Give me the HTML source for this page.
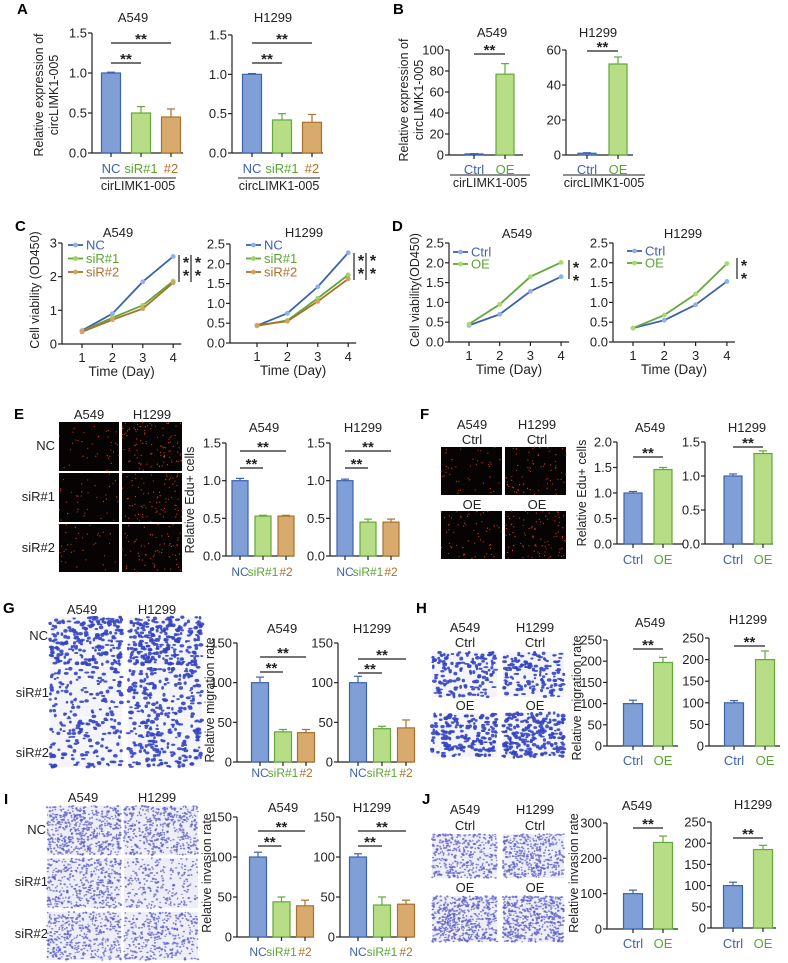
<!DOCTYPE html>
<html><head><meta charset="utf-8"><style>
html,body{margin:0;padding:0;background:#fff;}
svg{display:block;font-family:"Liberation Sans",sans-serif;}
</style></head><body>
<svg id="fig" width="788" height="963" viewBox="0 0 788 963" xmlns="http://www.w3.org/2000/svg">
<rect width="788" height="963" fill="#fff"/>
</svg>
<script>
// ---------- data ----------
const kdCats = ["NC","siR#1","#2"];
const oeCats = ["Ctrl","OE"];
const aA549Vals = [1.0,0.50,0.45];   const aA549Errs = [0.01,0.08,0.10];
const aH1299Vals = [1.0,0.42,0.39];  const aH1299Errs = [0.01,0.08,0.10];
const bA549Vals = [1,77];  const bA549Errs = [0.3,10];
const bH1299Vals = [1,52]; const bH1299Errs = [0.3,4];
const days = [1,2,3,4];
const cA549NC = [0.40,0.90,1.85,2.60];  const cA549S1 = [0.38,0.78,1.15,1.87]; const cA549S2 = [0.36,0.72,1.05,1.82];
const cH1299NC = [0.44,0.75,1.42,2.28]; const cH1299S1 = [0.43,0.57,1.13,1.72]; const cH1299S2 = [0.45,0.55,1.05,1.62];
const dA549Ctrl = [0.42,0.70,1.28,1.65]; const dA549OE = [0.45,0.95,1.65,2.01];
const dH1299Ctrl = [0.35,0.55,0.94,1.53]; const dH1299OE = [0.35,0.68,1.21,1.98];
const eA549Vals = [1.0,0.53,0.53]; const eA549Errs = [0.03,0.01,0.01];
const eH1299Vals = [1.0,0.45,0.45]; const eH1299Errs = [0.02,0.04,0.04];
const fA549Vals = [1.0,1.46]; const fA549Errs = [0.03,0.04];
const fH1299Vals = [1.0,1.33]; const fH1299Errs = [0.03,0.04];
const gA549Vals = [100,38,37]; const gA549Errs = [7,3,4];
const gH1299Vals = [100,42,43]; const gH1299Errs = [8,3,10];
const hA549Vals = [100,197]; const hA549Errs = [8,12];
const hH1299Vals = [100,200]; const hH1299Errs = [5,20];
const iA549Vals = [100,44,39]; const iA549Errs = [6,6,7];
const iH1299Vals = [100,40,41]; const iH1299Errs = [4,10,5];
const jA549Vals = [100,245]; const jA549Errs = [10,18];
const jH1299Vals = [100,185]; const jH1299Errs = [8,10];
const ticksA = [0,0.5,1.0,1.5]; const tickLabA = ["0.0","0.5","1.0","1.5"];
const ticksB1 = [0,20,40,60,80,100]; const ticksB2 = [0,20,40,60];
const ticksC1 = [0,1,2,3]; const ticksC2 = [0,0.5,1,1.5,2,2.5]; const tickLabC2 = ["0.0","0.5","1.0","1.5","2.0","2.5"];
const ticksF1 = [0,0.5,1,1.5,2]; const tickLabF1 = ["0.0","0.5","1.0","1.5","2.0"];
const ticks150 = [0,50,100,150]; const ticks250 = [0,50,100,150,200,250]; const ticks300 = [0,100,200,300];

// ---------- helpers ----------
const NS='http://www.w3.org/2000/svg';
const svg=document.getElementById('fig');
function mk(tag,attrs,parent){const e=document.createElementNS(NS,tag);for(const k in attrs)e.setAttribute(k,attrs[k]);(parent||svg).appendChild(e);return e;}
function txt(x,y,s,opts,parent){const t=mk('text',Object.assign({x:x,y:y,'font-size':11.5,'text-anchor':'middle',fill:'#222'},opts||{}),parent);t.textContent=s;return t;}
const COL={
 NC:{fill:'#7f9fd6',stroke:'#3d62ad',text:'#3d62ad',mark:'#8fb0e8'},
 Ctrl:{fill:'#7f9fd6',stroke:'#3d62ad',text:'#3d62ad',mark:'#8fb0e8'},
 'siR#1':{fill:'#b7dd86',stroke:'#62a83a',text:'#5aa532',mark:'#9ed36a'},
 OE:{fill:'#b7dd86',stroke:'#62a83a',text:'#5aa532',mark:'#a6dc6e'},
 '#2':{fill:'#d8aa6e',stroke:'#a8722d',text:'#b0702a',mark:'#d9a060'},
 'siR#2':{fill:'#d8aa6e',stroke:'#a8722d',text:'#b0702a',mark:'#d9a060'}
};

function barChart(c){
 const g=mk('g',{});
 
 
 const ys=v=>c.y0-(v/c.max)*(c.y0-c.yTop);
 const bw=c.bw||18;
 mk('line',{x1:c.ax,y1:ys(c.ticks[c.ticks.length-1]),x2:c.ax,y2:c.y0,stroke:'#222','stroke-width':1.2},g);
 mk('line',{x1:c.ax,y1:c.y0,x2:c.xEnd,y2:c.y0,stroke:'#222','stroke-width':1.2},g);
 c.ticks.forEach((t,i)=>{
  mk('line',{x1:c.ax-4,y1:ys(t),x2:c.ax,y2:ys(t),stroke:'#222','stroke-width':1.2},g);
  const tl=txt(c.ax-5,ys(t)+4.5,c.tickLabels?c.tickLabels[i]:String(t),{'text-anchor':'end','font-size':13},g);
  
  
 });
 c.vals.forEach((v,i)=>{
  const cx=c.x0+i*c.step, col=COL[c.cats[i]];
  const top=ys(v), et=ys(v+c.errs[i]);
  mk('line',{x1:cx,y1:top,x2:cx,y2:et,stroke:col.stroke,'stroke-width':1.2},g);
  mk('line',{x1:cx-4,y1:et,x2:cx+4,y2:et,stroke:col.stroke,'stroke-width':1.2},g);
  const r=mk('rect',{x:cx-bw/2,y:top,width:bw,height:Math.max(0.8,c.y0-top),fill:col.fill,stroke:col.stroke,'stroke-width':1.2},g);
  
  
  mk('line',{x1:cx,y1:c.y0,x2:cx,y2:c.y0+4,stroke:'#222','stroke-width':1.2},g);
  const l=txt(cx,c.ly,c.cats[i],{fill:col.text,'font-size':c.lfs||13},g);
  
  
 });
 const t=txt(c.tx,c.ty,c.title,{'font-size':13},g);
 
 
 (c.sig||[]).forEach(s=>{
  const x1=c.x0+s[0]*c.step, x2=c.x0+s[1]*c.step;
  mk('line',{x1:x1,y1:s[2],x2:x2,y2:s[2],stroke:'#222','stroke-width':1.2},g);
  const st=txt((x1+x2)/2,s[2]+1,'**',{'font-size':15,'font-weight':'bold'},g);
  
  
 });
 if(c.under){
  mk('line',{x1:c.under[0],y1:c.under[2],x2:c.under[1],y2:c.under[2],stroke:'#222','stroke-width':1},g);
  const u=txt((c.under[0]+c.under[1])/2,c.under[2]+12,c.under[3],{'font-size':12.5},g);
  
  
 }
}

function lineChart(c){
 const g=mk('g',{});
 
 
 const ys=v=>c.y0-(v/c.max)*(c.y0-c.yTop);
 const xs=d=>c.x0+(d-1)*c.step;
 mk('line',{x1:c.ax,y1:c.yTop,x2:c.ax,y2:c.y0,stroke:'#222','stroke-width':1.2},g);
 mk('line',{x1:c.ax,y1:c.y0,x2:xs(4)+8,y2:c.y0,stroke:'#222','stroke-width':1.2},g);
 c.ticks.forEach((t,i)=>{
  mk('line',{x1:c.ax-4,y1:ys(t),x2:c.ax,y2:ys(t),stroke:'#222','stroke-width':1.2},g);
  const tl=txt(c.ax-5,ys(t)+4.5,c.tickLabels?c.tickLabels[i]:String(t),{'text-anchor':'end','font-size':13},g);
  
  
 });
 days.forEach(d=>{
  mk('line',{x1:xs(d),y1:c.y0,x2:xs(d),y2:c.y0+4,stroke:'#222','stroke-width':1.2},g);
  const xl=txt(xs(d),c.y0+18,String(d),{'font-size':13},g);
  
  
 });
 const xt=txt((c.ax+xs(4))/2+4,c.y0+32,'Time (Day)',{'font-size':13.5},g);
 
 
 c.series.forEach((s,si)=>{
  const col=COL[s.key];
  const p=mk('polyline',{points:s.vals.map((v,i)=>xs(days[i])+','+ys(v)).join(' '),fill:'none',stroke:col.stroke,'stroke-width':1.8},g);
  
  
  s.vals.forEach((v,i)=>{
   const m=mk('circle',{cx:xs(days[i]),cy:ys(v),r:2.4,fill:col.mark},g);
   
   
  });
  const ly=c.legY+si*c.legDy;
  mk('line',{x1:c.legX,y1:ly,x2:c.legX+15,y2:ly,stroke:col.stroke,'stroke-width':1.8},g);
  mk('circle',{cx:c.legX+7.5,cy:ly,r:2.4,fill:col.mark},g);
  const lt=txt(c.legX+18,ly+4.5,s.key,{'text-anchor':'start',fill:col.text,'font-size':13},g);
  
  
 });
 const t=txt(c.tx,c.ty,c.title,{'font-size':13},g);
 
 
 c.sigX.forEach((sx,k)=>{
  mk('line',{x1:sx,y1:c.sigY[0],x2:sx,y2:c.sigY[1],stroke:'#222','stroke-width':1.2},g);
  txt(sx+7,c.sigY[0]+13,'*',{'font-size':16,'font-weight':'bold'},g);
  txt(sx+7,c.sigY[0]+26,'*',{'font-size':16,'font-weight':'bold'},g);
 });
}

function yTitle(x,y,lines,name){
 const t=mk('text',{x:x,y:y,'font-size':12.5,'text-anchor':'middle',fill:'#222',transform:'rotate(-90 '+x+' '+y+')'});
 
 
 lines.forEach((s,i)=>{const ts=mk('tspan',{x:x,dy:i?15:0},t);ts.textContent=s;});
}
function label(x,y,s){const t=txt(x,y,s,{'font-size':15,'font-weight':'bold','text-anchor':'start',fill:'#000'});}
function plain(x,y,s,anchor,name){const t=txt(x,y,s,{'font-size':13,'text-anchor':anchor||'middle'});}

// deterministic texture generator for micrographs
let seed=12345;
function rnd(){seed=(seed*1103515245+12345)%2147483648;return seed/2147483648;}
function micro(x,y,w,h,type,dens,name){
 const g=mk('g',{});
 
 
 if(type==='edu'){
  mk('rect',{x:x,y:y,width:w,height:h,fill:'#070303'},g);
  const n=Math.round(w*h*dens*0.4);
  for(let i=0;i<n;i++){mk('circle',{cx:x+rnd()*w,cy:y+rnd()*h,r:0.6,fill:rnd()<0.5?'#d8480c':'#b8380a'},g);}
 }else{
  const bg=type==='mig'?'#f4f5fb':'#eeeef8';
  mk('rect',{x:x,y:y,width:w,height:h,fill:bg},g);
  const n=Math.round(w*h*dens*(type==='mig'?0.22:0.32));
  const c1=type==='mig'?'#3444c0':'#5a5ec4';
  for(let i=0;i<n;i++){mk('ellipse',{cx:x+rnd()*w,cy:y+rnd()*h,rx:type==='mig'?1.2+rnd()*1.4:0.7+rnd()*0.8,ry:type==='mig'?0.9+rnd()*1.1:0.6+rnd()*0.6,fill:c1,opacity:type==='mig'?0.9:0.75},g);}
 }
}

// ---------- panel labels ----------
label(17,14,'A');label(393,14,'B');label(15,231,'C');label(392,231,'D');
label(14,419,'E');label(420,419,'F');label(3,613,'G');label(416,613,'H');label(4,804,'I');label(422,804,'J');

// ---------- A ----------
yTitle(43,95,['Relative expression of','circLIMK1-005'],'y-axis-title-a');
barChart({name:'chart-a-a549',cats:kdCats,vals:aA549Vals,errs:aA549Errs,ax:92,y0:153,yTop:33,max:1.5,ticks:ticksA,tickLabels:tickLabA,x0:111,step:30,bw:19,xEnd:183,ly:173,tx:133,ty:22,title:'A549',sig:[[0,2,43],[0,1,63]],under:[100,176,178,'cirLIMK1-005']});
barChart({name:'chart-a-h1299',cats:kdCats,vals:aH1299Vals,errs:aH1299Errs,ax:232,y0:153,yTop:35,max:1.5,ticks:ticksA,tickLabels:tickLabA,x0:252,step:30,bw:19,xEnd:323,ly:173,tx:273,ty:22,title:'H1299',sig:[[0,2,43],[0,1,63]],under:[238,320,178,'circLIMK1-005']});
// ---------- B ----------
yTitle(408,100,['Relative expression of','circLIMK1-005'],'y-axis-title-b');
barChart({name:'chart-b-a549',cats:oeCats,vals:bA549Vals,errs:bA549Errs,ax:449,y0:155,yTop:50,max:100,ticks:ticksB1,x0:474,step:31,bw:18,xEnd:523,ly:174,tx:492,ty:37,title:'A549',sig:[[0,1,54]],under:[450,530,175,'cirLIMK1-005']});
barChart({name:'chart-b-h1299',cats:oeCats,vals:bH1299Vals,errs:bH1299Errs,ax:566,y0:155,yTop:50,max:60,ticks:ticksB2,x0:587,step:31,bw:18,xEnd:633,ly:174,tx:598,ty:37,title:'H1299',sig:[[0,1,51]],under:[563,645,175,'circLIMK1-005']});
// ---------- C ----------
yTitle(39,290,['Cell viability (OD450)'],'y-axis-title-c');
lineChart({name:'chart-c-a549',ax:62,y0:344,yTop:243,max:3,ticks:ticksC1,x0:82,step:30.4,tx:118,ty:237,title:'A549',
 series:[{key:'NC',vals:cA549NC},{key:'siR#1',vals:cA549S1},{key:'siR#2',vals:cA549S2}],legX:68,legY:245,legDy:13.5,sigX:[179,191],sigY:[255,282]});
lineChart({name:'chart-c-h1299',ax:230,y0:343,yTop:244,max:2.5,ticks:ticksC2,tickLabels:tickLabC2,x0:257,step:30.4,tx:304,ty:237,title:'H1299',
 series:[{key:'NC',vals:cH1299NC},{key:'siR#1',vals:cH1299S1},{key:'siR#2',vals:cH1299S2}],legX:246,legY:245,legDy:13.5,sigX:[354,366],sigY:[253,280]});
// ---------- D ----------
yTitle(419,290,['Cell viability(OD450)'],'y-axis-title-d');
lineChart({name:'chart-d-a549',ax:449,y0:342,yTop:243,max:2.5,ticks:ticksC2,tickLabels:tickLabC2,x0:469,step:30.7,tx:517,ty:238,title:'A549',
 series:[{key:'Ctrl',vals:dA549Ctrl},{key:'OE',vals:dA549OE}],legX:453,legY:252,legDy:12,sigX:[569],sigY:[260,279]});
lineChart({name:'chart-d-h1299',ax:613,y0:342,yTop:243,max:2.5,ticks:ticksC2,tickLabels:tickLabC2,x0:633,step:31.3,tx:683,ty:238,title:'H1299',
 series:[{key:'Ctrl',vals:dH1299Ctrl},{key:'OE',vals:dH1299OE}],legX:627,legY:251,legDy:12,sigX:[737],sigY:[258,279]});

// ---------- E ----------
plain(89,419,'A549');plain(152,419,'H1299');
plain(55,450,'NC','end','row-label');plain(55,501,'siR#1','end','row-label');plain(55,552,'siR#2','end','row-label');
[[422,471,[0.03,0.09]],[473,522,[0.03,0.07]],[524,572,[0.03,0.06]]].forEach((r,i)=>{
 micro(59,r[0],60,r[1]-r[0],'edu',r[2][0],'edu-image-a549');
 micro(122,r[0],60,r[1]-r[0],'edu',r[2][1],'edu-image-h1299');
});
yTitle(194,500,['Relative Edu+ cells'],'y-axis-title-e');
barChart({name:'chart-e-a549',cats:kdCats,vals:eA549Vals,errs:eA549Errs,ax:226,y0:556,yTop:443,max:1.5,ticks:ticksA,tickLabels:tickLabA,x0:240,step:23,bw:16,xEnd:294,ly:576,lfs:12,tx:264,ty:432,title:'A549',sig:[[0,2,451],[0,1,468]]});
barChart({name:'chart-e-h1299',cats:kdCats,vals:eH1299Vals,errs:eH1299Errs,ax:330,y0:556,yTop:443,max:1.5,ticks:ticksA,tickLabels:tickLabA,x0:345,step:23,bw:16,xEnd:399,ly:576,lfs:12,tx:363,ty:432,title:'H1299',sig:[[0,2,451],[0,1,468]]});
// ---------- F ----------
plain(472,429,'A549');plain(472,444,'Ctrl');plain(537,429,'H1299');plain(537,444,'Ctrl');
plain(472,509,'OE');plain(537,509,'OE');
micro(441,447,61,48,'edu',0.035,'edu-image-a549-ctrl');micro(505,447,61,48,'edu',0.06,'edu-image-h1299-ctrl');
micro(441,511,61,48,'edu',0.05,'edu-image-a549-oe');micro(505,511,61,48,'edu',0.08,'edu-image-h1299-oe');
yTitle(586,493,['Relative Edu+ cells'],'y-axis-title-f');
barChart({name:'chart-f-a549',cats:oeCats,vals:fA549Vals,errs:fA549Errs,ax:617,y0:544,yTop:442,max:2,ticks:ticksF1,tickLabels:tickLabF1,x0:633,step:30,bw:18,xEnd:683,ly:564,tx:650,ty:432,title:'A549',sig:[[0,1,457]]});
barChart({name:'chart-f-h1299',cats:oeCats,vals:fH1299Vals,errs:fH1299Errs,ax:705,y0:544,yTop:442,max:1.5,ticks:ticksA,tickLabels:tickLabA,x0:733,step:30,bw:18,xEnd:773,ly:564,tx:747,ty:432,title:'H1299',sig:[[0,1,447]]});
// ---------- G ----------
plain(82,614,'A549');plain(157,614,'H1299');
plain(48,640,'NC','end','row-label');plain(49,697,'siR#1','end','row-label');plain(49,757,'siR#2','end','row-label');
[[617,665,[0.28,0.33]],[667,717,[0.13,0.18]],[718,767,[0.15,0.2]]].forEach(r=>{
 micro(50,r[0],72,r[1]-r[0],'mig',r[2][0],'migration-image-a549');
 micro(128,r[0],74,r[1]-r[0],'mig',r[2][1],'migration-image-h1299');
});
yTitle(214,700,['Relative migration rate'],'y-axis-title-g');
barChart({name:'chart-g-a549',cats:kdCats,vals:gA549Vals,errs:gA549Errs,ax:237,y0:762,yTop:643,max:150,ticks:ticks150,x0:260,step:23,bw:17,xEnd:314,ly:777,lfs:12,tx:282,ty:633,title:'A549',sig:[[0,2,657],[0,1,672]]});
barChart({name:'chart-g-h1299',cats:kdCats,vals:gH1299Vals,errs:gH1299Errs,ax:338,y0:762,yTop:643,max:150,ticks:ticks150,x0:358,step:24,bw:17,xEnd:413,ly:777,lfs:12,tx:372,ty:633,title:'H1299',sig:[[0,2,659],[0,1,673]]});
// ---------- H ----------
plain(465,632,'A549');plain(465,647,'Ctrl');plain(535,632,'H1299');plain(535,647,'Ctrl');
plain(465,710,'OE');plain(535,710,'OE');
micro(432,652,65,45,'mig',0.22,'migration-image-a549-ctrl');micro(503,652,61,45,'mig',0.24,'migration-image-h1299-ctrl');
micro(432,713,65,44,'mig',0.28,'migration-image-a549-oe');micro(503,713,61,44,'mig',0.36,'migration-image-h1299-oe');
yTitle(581,698,['Relative migration rate'],'y-axis-title-h');
barChart({name:'chart-h-a549',cats:oeCats,vals:hA549Vals,errs:hA549Errs,ax:607,y0:746,yTop:640,max:250,ticks:ticks250,x0:633,step:30,bw:19,xEnd:678,ly:765,tx:650,ty:627,title:'A549',sig:[[0,1,649]]});
barChart({name:'chart-h-h1299',cats:oeCats,vals:hH1299Vals,errs:hH1299Errs,ax:709,y0:746,yTop:638,max:250,ticks:ticks250,x0:734,step:31,bw:19,xEnd:780,ly:765,tx:748,ty:624,title:'H1299',sig:[[0,1,646]]});
// ---------- I ----------
plain(83,802,'A549');plain(157,802,'H1299');
plain(46,834,'NC','end','row-label');plain(48,886,'siR#1','end','row-label');plain(48,938,'siR#2','end','row-label');
[[806,855,[0.45,0.38]],[858,908,[0.35,0.2]],[912,960,[0.35,0.3]]].forEach(r=>{
 micro(47,r[0],74,r[1]-r[0],'inv',r[2][0],'invasion-image-a549');
 micro(124,r[0],74,r[1]-r[0],'inv',r[2][1],'invasion-image-h1299');
});
yTitle(211,873,['Relative invasion rate'],'y-axis-title-i');
barChart({name:'chart-i-a549',cats:kdCats,vals:iA549Vals,errs:iA549Errs,ax:237,y0:937,yTop:817,max:150,ticks:ticks150,x0:258,step:23.5,bw:17,xEnd:314,ly:956,lfs:12,tx:283,ty:812,title:'A549',sig:[[0,2,831],[0,1,846]]});
barChart({name:'chart-i-h1299',cats:kdCats,vals:iH1299Vals,errs:iH1299Errs,ax:340,y0:937,yTop:817,max:150,ticks:ticks150,x0:358,step:24,bw:17,xEnd:413,ly:956,lfs:12,tx:372,ty:812,title:'H1299',sig:[[0,2,831],[0,1,846]]});
// ---------- J ----------
plain(465,814,'A549');plain(465,830,'Ctrl');plain(535,814,'H1299');plain(535,830,'Ctrl');
plain(465,892,'OE');plain(535,892,'OE');
micro(432,834,65,44,'inv',0.4,'invasion-image-a549-ctrl');micro(503,834,61,44,'inv',0.45,'invasion-image-h1299-ctrl');
micro(432,896,65,46,'inv',0.55,'invasion-image-a549-oe');micro(503,896,61,46,'inv',0.55,'invasion-image-h1299-oe');
yTitle(578,873,['Relative invasion rate'],'y-axis-title-j');
barChart({name:'chart-j-a549',cats:oeCats,vals:jA549Vals,errs:jA549Errs,ax:607,y0:929,yTop:823,max:300,ticks:ticks300,x0:633,step:30,bw:19,xEnd:678,ly:948,tx:637,ty:810,title:'A549',sig:[[0,1,828]]});
barChart({name:'chart-j-h1299',cats:oeCats,vals:jH1299Vals,errs:jH1299Errs,ax:711,y0:928,yTop:822,max:250,ticks:ticks250,x0:733,step:30,bw:19,xEnd:776,ly:948,tx:753,ty:809,title:'H1299',sig:[[0,1,838]]});
</script>
</body></html>
